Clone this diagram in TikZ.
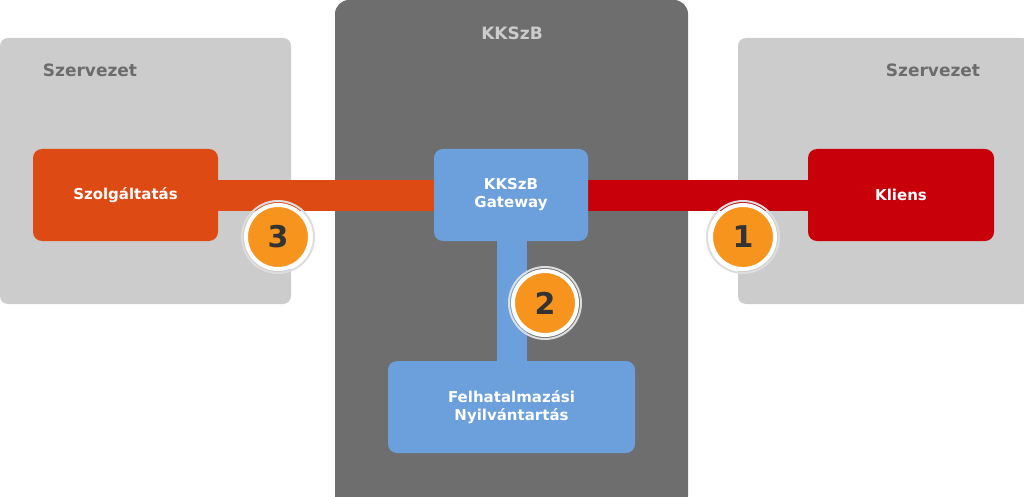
\documentclass[tikz,border=0pt]{standalone}
\usepackage{fontspec}
\setmainfont{DejaVu Sans}
\begin{document}
\begin{tikzpicture}[x=1pt,y=-1pt,
  org/.style={fill=orgc,rounded corners=8pt},
  box/.style={rounded corners=9pt,text=white,font=\bfseries\fontsize{15}{18}\selectfont,align=center},
  num/.style={circle,fill=numc,draw=white,line width=4pt,minimum size=64pt,font=\bfseries\fontsize{30}{30}\selectfont,text=numtxt},
  ring/.style={circle,draw=ringc,line width=2pt,minimum size=72pt}]
\definecolor{orgc}{HTML}{CCCCCC}
\definecolor{kkc}{HTML}{6E6E6E}
\definecolor{svc}{HTML}{DD4A14}
\definecolor{klc}{HTML}{C8000A}
\definecolor{blc}{HTML}{6CA0DC}
\definecolor{numc}{HTML}{F7941D}
\definecolor{numtxt}{HTML}{333333}
\definecolor{ringc}{HTML}{DDDDDD}
\useasboundingbox (0,0) rectangle (1024,497);
\fill[org] (0,38) rectangle (291,304);
\fill[org] (738,38) rectangle (1030,304);
\fill[kkc,rounded corners=14pt] (335,0) rectangle (688,510);
\node[text=gray!85!black,font=\bfseries\fontsize{17}{20}\selectfont] (s1) at (90,70) {Szervezet};
\node[text=gray!85!black,font=\bfseries\fontsize{17}{20}\selectfont] (s2) at (933,70) {Szervezet};
\node[text=orgc,font=\bfseries\fontsize{17}{20}\selectfont] (k) at (512,33) {KKSzB};
\fill[svc] (218,180) rectangle (434,211);
\fill[klc] (588,180) rectangle (808,211);
\fill[blc] (497,241) rectangle (527,361);
\node[box,fill=svc,minimum width=185pt,minimum height=92pt] (sz) at (125.5,195) {Szolgáltatás};
\node[box,fill=klc,minimum width=186pt,minimum height=92pt] (kl) at (901,195) {Kliens};
\node[box,fill=blc,minimum width=154pt,minimum height=92pt] (gw) at (511,195) {KKSzB\\Gateway};
\node[box,fill=blc,minimum width=247pt,minimum height=92pt] (fn) at (511.5,407) {Felhatalmazási\\Nyilvántartás};
\node[ring] (r3) at (278,237) {};
\node[num] (n3) at (278,237) {3};
\node[ring] (r1) at (743,237) {};
\node[num] (n1) at (743,237) {1};
\node[ring] (r2) at (545,303) {};
\node[num] (n2) at (545,303) {2};
\end{tikzpicture}
\end{document}
